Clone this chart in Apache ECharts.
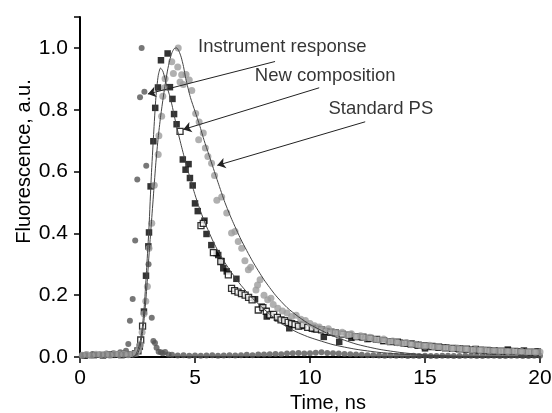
<!DOCTYPE html>
<html>
<head>
<meta charset="utf-8">
<script src="https://cdn.jsdelivr.net/npm/echarts@6/dist/echarts.min.js"></script>
<style>html,body{margin:0;padding:0;background:#fff;}#c{width:552px;height:413px;}</style>
</head>
<body>
<div id="c"></div>
<script>
// ---- Instrument response (dark grey circles) ----
const instTime = [0.1,0.25,0.4,0.55,0.7,0.85,1.0,1.15,1.3,1.45,1.6,1.75,1.9,2.0,2.1,2.17,2.29,2.4,2.49,2.61,2.68,2.8,2.88,2.98,3.12,3.19,3.26,3.33,3.42,3.52,3.6,3.7,3.85,4.0,4.25,4.5,4.75,5.0,5.25,5.5,5.75,6.0,6.25,6.5,6.75,7.0,7.25,7.5,7.75,8.0,8.25,8.5,8.75,9.0,9.25,9.5,9.75,10.0,10.25,10.5,10.75,11.0,11.25,11.5,11.75,12.0,12.25,12.5,12.75,13.0,13.25,13.5,13.75,14.0,14.25,14.5,14.75,15.0,15.25,15.5,15.75,16.0,16.25,16.5,16.75,17.0,17.25,17.5,17.75,18.0,18.25,18.5,18.75,19.0,19.25,19.5,19.75,20.0];
const instVal  = [0.006,0.008,0.005,0.010,0.007,0.009,0.008,0.011,0.009,0.012,0.010,0.015,0.012,0.020,0.042,0.117,0.188,0.377,0.574,0.840,1.000,0.858,0.619,0.300,0.127,0.052,0.045,0.030,0.017,0.015,0.012,0.016,0.008,0.007,0.005,0.006,0.004,0.005,0.004,0.005,0.006,0.004,0.005,0.006,0.005,0.006,0.007,0.006,0.008,0.008,0.009,0.010,0.009,0.011,0.012,0.013,0.011,0.012,0.014,0.015,0.013,0.012,0.011,0.010,0.009,0.008,0.007,0.006,0.006,0.005,0.004,0.005,0.004,0.005,0.003,0.004,0.003,0.004,0.003,0.003,0.004,0.004,0.003,0.003,0.004,0.004,0.003,0.003,0.004,0.004,0.003,0.003,0.004,0.004,0.003,0.003,0.004,0.004];

// ---- New composition (filled black squares) ----
const newTime = [0.2,0.6,1.0,1.4,1.8,2.2,2.4,2.6,2.78,2.87,2.97,3.0,3.07,3.19,3.27,3.39,3.52,3.81,3.91,4.02,4.09,4.2,4.47,4.59,4.72,4.78,4.9,5.0,5.12,5.41,5.5,5.71,5.94,6.01,6.15,6.23,6.38,6.8,7.61,7.9,8.12,8.6,9.1,9.6,10.2,10.6,11.27,11.8,12.5,13.2,13.9,14.6,15.0,15.6,16.4,17.2,18.0,18.6,19.3,19.9];
const newVal  = [0.004,0.006,0.005,0.007,0.006,0.008,0.012,0.033,0.147,0.263,0.358,0.403,0.552,0.698,0.806,0.872,0.960,0.982,0.873,0.835,0.786,0.753,0.639,0.606,0.624,0.579,0.555,0.497,0.472,0.441,0.398,0.362,0.336,0.330,0.310,0.287,0.277,0.253,0.187,0.163,0.131,0.125,0.093,0.100,0.090,0.065,0.049,0.062,0.058,0.052,0.046,0.040,0.028,0.033,0.027,0.026,0.020,0.024,0.021,0.018];

// ---- New composition (open squares) ----
const openTime = [2.52,2.64,2.72,4.35,5.26,5.36,5.8,6.12,6.45,6.59,6.72,6.87,7.02,7.18,7.33,7.48,7.75,7.95,8.1,8.26,8.42,8.58,8.74,8.9,9.05,9.2,9.35,9.5,9.7,9.9,10.1,10.3,10.5,10.7,10.9,11.1,11.4,11.7,12.0,12.3,12.6,12.9,13.2,13.5,13.8,14.1,14.4,14.7,15.0,15.3,15.6,15.9,16.2,16.5,16.8,17.1,17.4,17.7,18.0,18.3,18.6,18.9,19.2,19.5,19.8];
const openVal  = [0.020,0.055,0.100,0.730,0.425,0.432,0.338,0.309,0.266,0.222,0.215,0.210,0.205,0.200,0.193,0.185,0.152,0.160,0.148,0.136,0.138,0.128,0.120,0.118,0.112,0.108,0.105,0.100,0.104,0.096,0.093,0.090,0.088,0.083,0.080,0.078,0.074,0.071,0.066,0.064,0.060,0.057,0.053,0.050,0.048,0.044,0.042,0.038,0.036,0.034,0.031,0.030,0.028,0.026,0.025,0.023,0.022,0.021,0.020,0.019,0.019,0.018,0.017,0.016,0.016];

// ---- Standard PS (light grey circles) ----
const stdTime = [0.1,0.3,0.5,0.7,0.9,1.1,1.3,1.5,1.7,1.9,2.1,2.3,2.45,2.55,2.63,2.7,2.78,2.86,2.93,3.0,3.12,3.23,3.4,3.43,3.55,3.6,3.67,3.7,3.99,4.06,4.25,4.27,4.35,4.42,4.49,4.61,4.75,4.86,5.03,5.16,5.18,5.36,5.45,5.56,5.72,5.85,5.95,6.16,6.38,6.59,6.74,6.88,7.03,7.17,7.32,7.42,7.65,7.72,7.83,8.0,8.16,8.3,8.4,8.6,8.8,9.0,9.2,9.4,9.6,9.8,10.0,10.2,10.4,10.6,10.8,11.0,11.2,11.4,11.6,11.8,12.0,12.2,12.4,12.6,12.8,13.0,13.2,13.4,13.6,13.8,14.0,14.2,14.4,14.6,14.8,15.0,15.2,15.4,15.6,15.8,16.0,16.2,16.4,16.6,16.8,17.0,17.2,17.4,17.6,17.8,18.0,18.2,18.4,18.6,18.8,19.0,19.2,19.4,19.6,19.8,20.0];
const stdVal  = [0.006,0.008,0.005,0.009,0.007,0.008,0.006,0.010,0.008,0.009,0.007,0.010,0.012,0.025,0.040,0.080,0.140,0.180,0.228,0.352,0.433,0.556,0.655,0.716,0.779,0.844,0.871,0.900,0.955,0.917,0.938,1.000,0.890,0.913,0.882,0.914,0.896,0.862,0.788,0.703,0.760,0.725,0.676,0.649,0.627,0.587,0.507,0.518,0.466,0.401,0.406,0.374,0.352,0.311,0.282,0.290,0.217,0.233,0.250,0.200,0.185,0.190,0.170,0.158,0.149,0.142,0.131,0.135,0.122,0.118,0.108,0.101,0.097,0.088,0.091,0.082,0.078,0.080,0.072,0.075,0.066,0.069,0.062,0.064,0.057,0.055,0.058,0.050,0.052,0.046,0.044,0.047,0.040,0.041,0.037,0.035,0.038,0.032,0.033,0.029,0.030,0.027,0.029,0.025,0.026,0.023,0.025,0.022,0.023,0.020,0.021,0.019,0.020,0.018,0.019,0.017,0.018,0.016,0.017,0.015,0.016];

// ---- Fit curves ----
const fitTime = [2.3,2.4,2.5,2.6,2.7,2.8,2.9,3.0,3.1,3.2,3.3,3.4,3.5,3.6,3.7,3.8,3.9,4.0,4.1,4.2,4.3,4.4,4.5,4.6,4.8,5.0,5.2,5.4,5.6,5.8,6.0,6.3,6.6,7.0,7.5,8.0,8.5,9.0,9.5,10,11,12,13,14,15,16,17,18,19,20];
const fitNew  = [0,0.005,0.02,0.045,0.09,0.17,0.29,0.42,0.585,0.72,0.84,0.91,0.935,0.925,0.9,0.87,0.845,0.815,0.78,0.746,0.715,0.685,0.656,0.628,0.575,0.525,0.48,0.44,0.405,0.372,0.343,0.305,0.272,0.232,0.19,0.155,0.122,0.097,0.078,0.063,0.04,0.025,0.015,0.009,0.005,0.003,0.002,0.001,0,0];
const fitStd  = [0,0.003,0.01,0.03,0.07,0.13,0.22,0.33,0.43,0.53,0.63,0.71,0.775,0.83,0.88,0.925,0.96,0.985,0.998,1.0,0.99,0.97,0.94,0.9,0.84,0.795,0.75,0.7,0.655,0.61,0.565,0.5,0.445,0.38,0.31,0.25,0.2,0.16,0.13,0.105,0.068,0.042,0.025,0.014,0.007,0.003,0.001,0,0,0];

// ---- Annotations ----
const annoText = ['Instrument response', 'New composition', 'Standard PS'];
const annoX = [5.13, 7.6, 10.8];
const annoY = [1.002, 0.908, 0.802];
const arrowFrom = [[8.48, 0.956], [10.4, 0.871], [12.4, 0.761]];
const arrowTo   = [[2.95, 0.851], [4.49, 0.736], [5.97, 0.62]];

// ---- Axis ticks ----
const xTicks = [0, 5, 10, 15, 20];
const yTicks = [0, 0.2, 0.4, 0.6, 0.8, 1.0];

const FONT = 'Arial, "Liberation Sans", sans-serif';
const zip = (xs, ys) => xs.map((x, i) => [x, ys[i]]);

const chart = echarts.init(document.getElementById('c'), null, { renderer: 'canvas' });
chart.setOption({
  animation: false,
  backgroundColor: '#fff',
  grid: { left: 80, right: 12, top: 17, bottom: 56, containLabel: false, outerBoundsMode: 'none' },
  xAxis: {
    type: 'value', min: xTicks[0], max: xTicks[xTicks.length - 1], interval: 5,
    name: 'Time, ns', nameLocation: 'middle', nameGap: 34,
    nameTextStyle: { fontSize: 20, color: '#000', fontFamily: FONT, padding: [0, 0, 0, 36] },
    axisLine: { show: true, onZero: false, lineStyle: { color: '#000', width: 2 } },
    axisTick: { show: true, length: 6, lineStyle: { color: '#000', width: 1.5 } },
    axisLabel: { fontSize: 21, color: '#000', fontFamily: FONT, margin: 11 },
    splitLine: { show: false }
  },
  yAxis: {
    type: 'value', min: 0, max: 1.1, interval: 0.2,
    name: 'Fluorescence, a.u.', nameLocation: 'middle', nameGap: 46, nameMoveOverlap: false,
    nameTextStyle: { fontSize: 20, color: '#000', fontFamily: FONT, padding: [0, 0, 0, 51] },
    axisLine: { show: true, onZero: false, lineStyle: { color: '#000', width: 2 } },
    axisTick: { show: true, length: 6, lineStyle: { color: '#000', width: 1.5 } },
    axisLabel: {
      fontSize: 21, color: '#000', fontFamily: FONT, margin: 12,
      formatter: v => (yTicks.some(t => Math.abs(t - v) < 1e-6) ? v.toFixed(1) : '')
    },
    splitLine: { show: false }
  },
  series: [
    {
      name: 'Instrument response', type: 'scatter', symbol: 'circle', symbolSize: 6,
      itemStyle: { color: '#555555' }, data: zip(instTime, instVal), z: 2
    },
    {
      name: 'New composition', type: 'scatter', symbol: 'rect', symbolSize: 6.5,
      itemStyle: { color: '#000000' }, data: zip(newTime, newVal), z: 3
    },
    {
      name: 'New composition (open)', type: 'scatter', symbol: 'rect', symbolSize: 6,
      itemStyle: { color: '#ffffff', borderColor: '#000000', borderWidth: 1.3 }, data: zip(openTime, openVal), z: 3
    },
    {
      name: 'Standard PS', type: 'scatter', symbol: 'circle', symbolSize: 7,
      itemStyle: { color: '#9c9c9c' }, data: zip(stdTime, stdVal), z: 4
    },
    {
      name: 'Fit new', type: 'line', smooth: 0.2, showSymbol: false, symbol: 'none',
      lineStyle: { color: '#444', width: 1 }, data: zip(fitTime, fitNew), z: 5
    },
    {
      name: 'Fit std', type: 'line', smooth: 0.2, showSymbol: false, symbol: 'none',
      lineStyle: { color: '#444', width: 1 }, data: zip(fitTime, fitStd), z: 5
    },
    {
      name: 'Annotations', type: 'scatter', symbolSize: 0, z: 6, silent: true,
      data: annoText.map((t, i) => ({ value: [annoX[i], annoY[i]], name: t })),
      label: {
        show: true, position: 'right', distance: 0, formatter: p => p.name,
        fontSize: 18.5, color: '#000', fontFamily: FONT, verticalAlign: 'middle'
      },
      markLine: {
        silent: true, symbol: ['none', 'arrow'], symbolSize: 8,
        lineStyle: { color: '#222', width: 1, type: 'solid' },
        label: { show: false },
        data: arrowFrom.map((f, i) => [{ coord: f }, { coord: arrowTo[i] }])
      }
    }
  ]
});
</script>
</body>
</html>
